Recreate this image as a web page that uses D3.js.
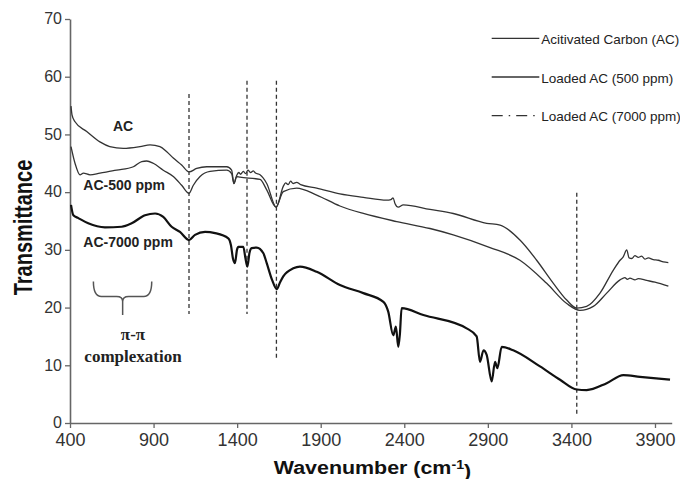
<!DOCTYPE html>
<html>
<head>
<meta charset="utf-8">
<script src="https://cdn.jsdelivr.net/npm/d3@7"></script>
<style>
  body { margin: 0; background: #fff; }
  text { font-family: Arial, "Liberation Sans", sans-serif; }
</style>
</head>
<body>
<div class="chart"></div>
<script>
var svgWidth = 680;
var svgHeight = 479;

var margin = { top: 19, right: 8, bottom: 56, left: 70 };
var width = 601.7;
var height = 404;

// spectra (wavenumber cm-1, transmittance)
var acWn = [406, 412, 430, 500, 579, 638, 719, 819, 879, 938, 979, 1018, 1068, 1112, 1158, 1218, 1338, 1367, 1381, 1397,
  1410, 1420, 1437, 1450, 1465, 1480, 1497, 1510, 1537, 1577, 1634, 1676, 1690, 1705, 1720, 1735, 1756, 1780, 1876, 2015,
  2155, 2295, 2320, 2333, 2345, 2364, 2394, 2554, 2693, 2893, 2973, 3092, 3192, 3292, 3372, 3432, 3491, 3571, 3651, 3691,
  3710, 3731, 3745, 3761, 3780, 3800, 3820, 3840, 3860, 3890, 3920, 3950, 3980];
var acT = [54.9, 53.4, 52.2, 50.5, 48.7, 47.9, 47.6, 47.9, 48.2, 47.9, 47.0, 45.9, 44.7, 43.5, 44.1, 44.4, 44.4, 43.8, 41.5, 42.9,
  43.4, 43.1, 43.6, 43.2, 43.8, 43.4, 43.7, 43.3, 43.0, 41.5, 37.4, 41.0, 41.6, 41.3, 41.9, 41.5, 41.7, 41.3, 40.7, 39.7,
  39.1, 38.6, 38.7, 39.0, 38.0, 37.4, 37.8, 37.0, 36.3, 34.6, 34.3, 31.7, 28.2, 24.2, 21.3, 19.9, 20.2, 22.5, 26.5, 28.2,
  28.8, 30.0, 28.6, 28.5, 29.0, 28.7, 28.9, 28.4, 28.6, 28.3, 28.2, 27.9, 27.8];

var ac500Wn = [406, 430, 460, 480, 520, 579, 679, 779, 829, 859, 898, 958, 1018, 1068, 1112, 1138, 1178, 1238, 1338, 1367,
  1381, 1397, 1417, 1537, 1577, 1632, 1676, 1756, 1876, 2015, 2155, 2355, 2554, 2693, 2913, 3092, 3252, 3372, 3451, 3531,
  3611, 3691, 3720, 3735, 3750, 3780, 3800, 3850, 3900, 3980];
var ac500T = [47.9, 45.0, 43.0, 43.3, 43.0, 43.3, 43.8, 44.4, 45.3, 45.4, 45.0, 43.8, 42.7, 41.2, 39.8, 41.2, 42.7, 43.6, 43.8, 43.2,
  41.5, 42.7, 42.6, 42.2, 40.4, 37.4, 40.1, 40.7, 39.5, 37.6, 36.3, 34.9, 33.7, 32.6, 30.4, 28.2, 24.2, 20.7, 19.5, 20.2,
  22.5, 24.8, 25.2, 24.9, 25.1, 24.8, 25.0, 24.7, 24.4, 23.7];

var ac7000Wn = [406, 420, 450, 509, 609, 709, 769, 849, 909, 958, 1008, 1058, 1112, 1148, 1208, 1268, 1347, 1363, 1375, 1387,
  1399, 1407, 1437, 1450, 1461, 1474, 1487, 1517, 1557, 1577, 1609, 1637, 1657, 1676, 1736, 1776, 1876, 2015, 2155, 2275,
  2304, 2334, 2350, 2364, 2374, 2384, 2514, 2773, 2833, 2853, 2874, 2893, 2923, 2943, 2957, 2983, 3052, 3212, 3332, 3432,
  3491, 3611, 3711, 3810, 3990];
var ac7000T = [37.8, 36.0, 35.5, 34.6, 33.9, 34.0, 34.6, 36.0, 36.3, 35.7, 34.0, 33.1, 31.7, 32.6, 33.1, 32.9, 32.0, 30.8, 28.5, 27.7,
  30.0, 30.5, 30.5, 28.5, 27.1, 29.5, 30.3, 30.4, 29.4, 27.7, 24.8, 23.2, 24.4, 25.4, 26.8, 27.1, 26.2, 23.9, 22.5, 21.0,
  19.3, 15.2, 16.7, 13.2, 15.5, 19.9, 18.7, 16.4, 15.0, 10.6, 12.6, 11.8, 7.2, 10.6, 9.5, 13.2, 12.6, 9.8, 7.5, 5.8,
  5.7, 6.9, 8.3, 8.0, 7.5];

// dashed guide lines: wavenumber, top and bottom transmittance
var guideWn = [1112, 1459, 1635, 3432];
var guideTop = [57.0, 59.3, 59.3, 39.9];
var guideBottom = [18.9, 18.9, 11.3, 1.1];

var xTicks = [400, 900, 1400, 1900, 2400, 2900, 3400, 3900];
var yTicks = [0, 10, 20, 30, 40, 50, 60, 70];

var legendNames = ["Acitivated Carbon (AC)", "Loaded AC (500 ppm)", "Loaded AC (7000 ppm)"];

var svg = d3.select(".chart")
    .append("svg")
    .attr("width", svgWidth)
    .attr("height", svgHeight);

var chartGroup = svg.append("g")
    .attr("transform", `translate(${margin.left}, ${margin.top})`);

var x = d3.scaleLinear().domain([400, 4000]).range([0, width]);
var y = d3.scaleLinear().domain([0, 70]).range([height, 0]);

// axes
var xAxis = chartGroup.append("g")
    .attr("transform", `translate(0, ${height})`)
    .call(d3.axisBottom(x).tickValues(xTicks).tickFormat(d3.format("d"))
        .tickSize(5).tickSizeOuter(0).tickPadding(5));

var yAxis = chartGroup.append("g")
    .call(d3.axisLeft(y).tickValues(yTicks).tickFormat(d3.format("d"))
        .tickSize(5).tickSizeOuter(0).tickPadding(3));

[xAxis, yAxis].forEach(function(a) {
    a.select(".domain").attr("stroke", "#666").attr("stroke-width", 1.6);
    a.selectAll(".tick line").attr("stroke", "#666").attr("stroke-width", 1.3);
    a.selectAll(".tick text")
        .attr("fill", "#333")
        .style("font-family", "Arial, 'Liberation Sans', sans-serif")
        .style("font-size", "18px");
});
yAxis.selectAll(".tick text").style("font-size", "16px").attr("dy", "0.3em");

// guide lines
chartGroup.append("g").selectAll("line")
    .data(guideWn)
    .enter()
    .append("line")
    .attr("x1", d => x(d))
    .attr("x2", d => x(d))
    .attr("y1", (d, i) => y(guideTop[i]))
    .attr("y2", (d, i) => y(guideBottom[i]))
    .attr("stroke", "#333")
    .attr("stroke-width", 1.3)
    .attr("stroke-dasharray", "4,3");

// spectra
var line = d3.line()
    .x(d => x(d[0]))
    .y(d => y(d[1]))
    .curve(d3.curveMonotoneX);

var series = [
    { wn: acWn, t: acT, color: "#333", w: 1.3 },
    { wn: ac500Wn, t: ac500T, color: "#333", w: 1.3 },
    { wn: ac7000Wn, t: ac7000T, color: "#111", w: 2.2 }
];

series.forEach(function(s) {
    chartGroup.append("path")
        .datum(s.wn.map((w, i) => [w, s.t[i]]))
        .attr("fill", "none")
        .attr("stroke", s.color)
        .attr("stroke-width", s.w)
        .attr("stroke-linejoin", "round")
        .attr("d", line);
});

// curve labels
var labels = [
    { text: "AC", wn: 657, t: 50.6 },
    { text: "AC-500 ppm", wn: 480, t: 40.4 },
    { text: "AC-7000 ppm", wn: 480, t: 30.5 }
];
chartGroup.append("g").selectAll("text")
    .data(labels)
    .enter()
    .append("text")
    .attr("x", d => x(d.wn))
    .attr("y", d => y(d.t))
    .attr("fill", "#222")
    .style("font-weight", "bold")
    .style("font-size", "14px")
    .text(d => d.text);

// brace for pi-pi complexation
var bx0 = x(540), bx1 = x(889), bxm = x(715);
var byTop = y(24.5), byMid = y(21.9), byTip = y(18.7);
chartGroup.append("path")
    .attr("d", `M${bx0},${byTop} Q${bx0},${byMid} ${bx0 + 8},${byMid} L${bxm - 6},${byMid} Q${bxm},${byMid} ${bxm},${byMid + 5} L${bxm},${byTip}` +
        ` M${bxm},${byMid + 5} Q${bxm},${byMid} ${bxm + 6},${byMid} L${bx1 - 8},${byMid} Q${bx1},${byMid} ${bx1},${byTop}`)
    .attr("fill", "none")
    .attr("stroke", "#555")
    .attr("stroke-width", 1.5);

chartGroup.append("text")
    .attr("x", x(777))
    .attr("y", y(14.4))
    .attr("text-anchor", "middle")
    .attr("fill", "#222")
    .style("font-family", "'Liberation Serif', 'Times New Roman', serif")
    .style("font-weight", "bold")
    .style("font-size", "17px")
    .text("π-π");

chartGroup.append("text")
    .attr("x", x(777))
    .attr("y", y(10.6))
    .attr("text-anchor", "middle")
    .attr("fill", "#222")
    .style("font-family", "'Liberation Serif', 'Times New Roman', serif")
    .style("font-weight", "bold")
    .style("font-size", "17px")
    .text("complexation");

// legend
var legend = svg.append("g").attr("transform", "translate(491.7, 38.3)");
var legendDash = [null, null, "11,6,1.5,6"];
legendNames.forEach(function(name, i) {
    var row = legend.append("g").attr("transform", `translate(0, ${i * 38.7})`);
    row.append("line")
        .attr("x1", 0).attr("x2", 47.6)
        .attr("stroke", "#333")
        .attr("stroke-width", 1.3)
        .attr("stroke-dasharray", legendDash[i]);
    row.append("text")
        .attr("x", 49.5)
        .attr("y", 5.5)
        .attr("fill", "#222")
        .style("font-size", "13.5px")
        .text(name);
});

// axis titles
svg.append("text")
    .attr("transform", "translate(23, 227.5) scale(1.25, 1) rotate(-90)")
    .attr("text-anchor", "middle")
    .attr("dy", "0.35em")
    .attr("fill", "#111")
    .style("font-weight", "bold")
    .style("font-size", "20px")
    .text("Transmittance");

var xTitle = svg.append("text")
    .attr("transform", "translate(372.5, 474) scale(1.19, 1)")
    .attr("text-anchor", "middle")
    .attr("fill", "#111")
    .style("font-weight", "bold")
    .style("font-size", "18px");
xTitle.append("tspan").text("Wavenumber (cm");
xTitle.append("tspan").attr("dy", "-0.45em").style("font-size", "12px").text("-1");
xTitle.append("tspan").attr("dy", "0.45em").text(")");
</script>
</body>
</html>
